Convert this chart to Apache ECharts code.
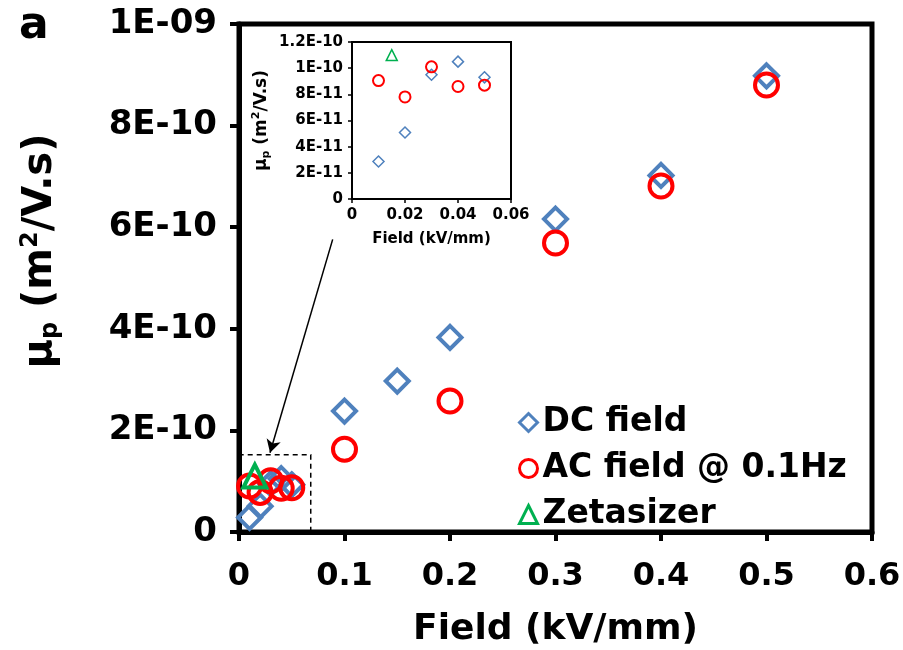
<!DOCTYPE html>
<html>
<head>
<meta charset="utf-8">
<script src="https://cdn.jsdelivr.net/npm/echarts@6/dist/echarts.min.js"></script>
<style>html,body{margin:0;padding:0;background:#fff}#c{width:903px;height:650px}</style>
</head>
<body>
<div id="c"></div>
<script>
// ---- data ----
var dcField = [0.01, 0.02, 0.03, 0.04, 0.05, 0.1, 0.15, 0.2, 0.3, 0.4, 0.5];
var dcMobility = [2.87e-11, 5.08e-11, 9.5e-11, 1.05e-10, 9.3e-11, 2.38e-10, 2.97e-10, 3.83e-10, 6.16e-10, 7.02e-10, 8.98e-10];
var acField = [0.01, 0.02, 0.03, 0.04, 0.05, 0.1, 0.2, 0.3, 0.4, 0.5];
var acMobility = [9.05e-11, 7.8e-11, 1.01e-10, 8.6e-11, 8.7e-11, 1.63e-10, 2.58e-10, 5.69e-10, 6.81e-10, 8.8e-10];
var zetaField = [0.015];
var zetaMobility = [1.1e-10];

var mainXTicks = ['0', '0.1', '0.2', '0.3', '0.4', '0.5', '0.6'];
var mainYTicks = ['0', '2E-10', '4E-10', '6E-10', '8E-10', '1E-09'];
var insetXTicks = ['0', '0.02', '0.04', '0.06'];
var insetYTicks = ['0', '2E-11', '4E-11', '6E-11', '8E-11', '1E-10', '1.2E-10'];

var zoomBox = [[0, 0], [0.068, 1.52e-10]];
var arrowLine = [[0.0888, 5.76e-10], [0.0294, 1.56e-10]];

var seriesNames = ['DC field', 'AC field @ 0.1Hz', 'Zetasizer'];
var colors = ['#4F81BD', '#FF0000', '#00B050'];

function pairs(xs, ys, maxX) {
  var out = [];
  for (var i = 0; i < xs.length; i++) {
    if (maxX === undefined || xs[i] <= maxX) out.push([xs[i], ys[i]]);
  }
  return out;
}

var FONT = 'DejaVu Sans';
var chart = echarts.init(document.getElementById('c'));

var yNameRich = function (big, small) {
  return {
    m: { fontFamily: FONT, fontWeight: 'bold', fontSize: big, lineHeight: big + 4, color: '#000' },
    sub: { fontFamily: FONT, fontWeight: 'bold', fontSize: small, lineHeight: small, verticalAlign: 'bottom', color: '#000' },
    sup: { fontFamily: FONT, fontWeight: 'bold', fontSize: small, lineHeight: small, verticalAlign: 'top', color: '#000' }
  };
};
var yNameText = '{m|μ}{sub|p}{m| (m}{sup|2}{m|/V.s)}';

var option = {
  backgroundColor: '#fff',
  animation: false,
  title: {
    text: 'a', left: 14, top: 0,
    textStyle: { fontFamily: FONT, fontWeight: 'bold', fontSize: 44, color: '#000' }
  },
  legend: {
    orient: 'vertical', left: 513, top: 401,
    itemWidth: 18, itemHeight: 18, itemGap: 13,
    itemStyle: { borderWidth: 3 },
    textStyle: { fontFamily: FONT, fontWeight: 'bold', fontSize: 33, color: '#000', padding: [0, 0, 0, 0] },
    data: [
      { name: seriesNames[0], icon: 'diamond' },
      { name: seriesNames[1], icon: 'circle' },
      { name: seriesNames[2], icon: 'triangle' }
    ]
  },
  grid: [
    { left: 239, right: 31, top: 24, bottom: 118, outerBoundsMode: 'none', containLabel: false, show: true, borderColor: '#000', borderWidth: 5, backgroundColor: 'transparent' },
    { left: 352, width: 159, top: 42, height: 157, outerBoundsMode: 'none', containLabel: false, show: true, borderColor: '#000', borderWidth: 2, backgroundColor: '#fff' }
  ],
  xAxis: [
    {
      gridIndex: 0, type: 'value', min: 0, max: 0.6, interval: 0.1,
      name: 'Field (kV/mm)', nameLocation: 'middle', nameGap: 80,
      nameTextStyle: { fontFamily: FONT, fontWeight: 'bold', fontSize: 36, color: '#000' },
      axisLine: { lineStyle: { color: '#000', width: 5 } },
      axisTick: { inside: false, length: 9, lineStyle: { color: '#000', width: 4 } },
      splitLine: { show: false },
      axisLabel: {
        margin: 29, fontFamily: FONT, fontWeight: 'bold', fontSize: 32, color: '#000',
        formatter: function (v) { return mainXTicks[Math.round(v / 0.1)]; }
      }
    },
    {
      gridIndex: 1, type: 'value', min: 0, max: 0.06, interval: 0.02,
      name: 'Field (kV/mm)', nameLocation: 'middle', nameGap: 33,
      nameTextStyle: { fontFamily: FONT, fontWeight: 'bold', fontSize: 15, color: '#000' },
      axisLine: { lineStyle: { color: '#000', width: 2 } },
      axisTick: { inside: false, length: 4, lineStyle: { color: '#000', width: 1.5 } },
      splitLine: { show: false },
      axisLabel: {
        margin: 9, fontFamily: FONT, fontWeight: 'bold', fontSize: 15, color: '#000',
        formatter: function (v) { return insetXTicks[Math.round(v / 0.02)]; }
      }
    }
  ],
  yAxis: [
    {
      gridIndex: 0, type: 'value', min: 0, max: 1e-9, interval: 2e-10,
      name: yNameText, nameLocation: 'middle', nameGap: 176,
      nameTextStyle: { rich: yNameRich(40, 24), padding: [0, 0, 0, 54] },
      axisLine: { lineStyle: { color: '#000', width: 5 } },
      axisTick: { inside: false, length: 9, lineStyle: { color: '#000', width: 4 } },
      splitLine: { show: false },
      axisLabel: {
        margin: 22, fontFamily: FONT, fontWeight: 'bold', fontSize: 34, color: '#000',
        formatter: function (v) { return mainYTicks[Math.round(v / 2e-10)]; }
      }
    },
    {
      gridIndex: 1, type: 'value', min: 0, max: 1.2e-10, interval: 2e-11,
      name: yNameText, nameLocation: 'middle', nameGap: 80,
      nameTextStyle: { rich: yNameRich(17, 11) },
      axisLine: { lineStyle: { color: '#000', width: 2 } },
      axisTick: { inside: false, length: 4, lineStyle: { color: '#000', width: 1.5 } },
      splitLine: { show: false },
      axisLabel: {
        margin: 9, fontFamily: FONT, fontWeight: 'bold', fontSize: 15, color: '#000',
        formatter: function (v) { return insetYTicks[Math.round(v / 2e-11)]; }
      }
    }
  ],
  series: [
    {
      name: seriesNames[0], type: 'scatter', xAxisIndex: 0, yAxisIndex: 0,
      symbol: 'diamond', symbolSize: 23,
      itemStyle: { color: 'rgba(0,0,0,0)', borderColor: colors[0], borderWidth: 4, opacity: 1 },
      data: pairs(dcField, dcMobility),
      markArea: {
        silent: true,
        itemStyle: { color: 'rgba(0,0,0,0)', borderColor: '#000', borderWidth: 1.5, borderType: [5, 4] },
        data: [[{ coord: zoomBox[0] }, { coord: zoomBox[1] }]]
      },
      markLine: {
        silent: true, symbol: ['none', 'arrow'], symbolSize: [11, 13],
        label: { show: false },
        lineStyle: { color: '#000', width: 1.5, type: 'solid' },
        data: [[{ coord: arrowLine[0] }, { coord: arrowLine[1] }]]
      }
    },
    {
      name: seriesNames[1], type: 'scatter', xAxisIndex: 0, yAxisIndex: 0,
      symbol: 'circle', symbolSize: 23,
      itemStyle: { color: 'rgba(0,0,0,0)', borderColor: colors[1], borderWidth: 4, opacity: 1 },
      data: pairs(acField, acMobility)
    },
    {
      name: seriesNames[2], type: 'scatter', xAxisIndex: 0, yAxisIndex: 0,
      symbol: 'triangle', symbolSize: 23,
      itemStyle: { color: 'rgba(0,0,0,0)', borderColor: colors[2], borderWidth: 4, opacity: 1 },
      data: pairs(zetaField, zetaMobility)
    },
    {
      name: seriesNames[0], type: 'scatter', xAxisIndex: 1, yAxisIndex: 1,
      symbol: 'diamond', symbolSize: 11,
      itemStyle: { color: 'rgba(0,0,0,0)', borderColor: colors[0], borderWidth: 1.5, opacity: 1 },
      data: pairs(dcField, dcMobility, 0.06)
    },
    {
      name: seriesNames[1], type: 'scatter', xAxisIndex: 1, yAxisIndex: 1,
      symbol: 'circle', symbolSize: 11,
      itemStyle: { color: 'rgba(0,0,0,0)', borderColor: colors[1], borderWidth: 2, opacity: 1 },
      data: pairs(acField, acMobility, 0.06)
    },
    {
      name: seriesNames[2], type: 'scatter', xAxisIndex: 1, yAxisIndex: 1,
      symbol: 'triangle', symbolSize: 11,
      itemStyle: { color: 'rgba(0,0,0,0)', borderColor: colors[2], borderWidth: 1.5, opacity: 1 },
      data: pairs(zetaField, zetaMobility, 0.06)
    }
  ]
};
chart.setOption(option);
</script>
</body>
</html>
